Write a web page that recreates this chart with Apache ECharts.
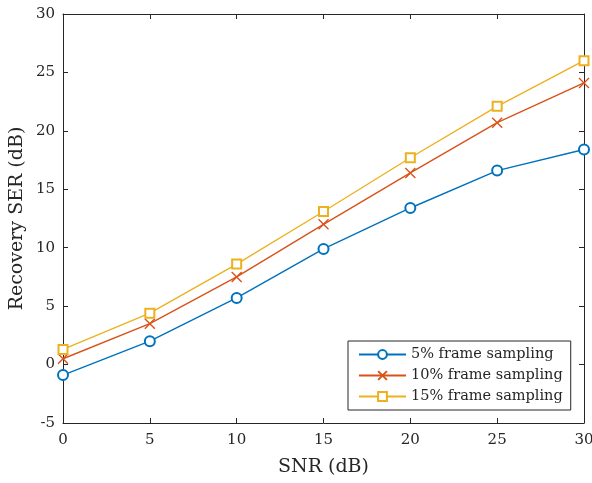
<!DOCTYPE html>
<html>
<head>
<meta charset="utf-8">
<script src="https://cdn.jsdelivr.net/npm/echarts@6/dist/echarts.min.js"></script>
<style>
  html, body { margin: 0; padding: 0; background: #fff; }
  #chart { width: 592px; height: 483px; }
</style>
</head>
<body>
<div id="chart"></div>
<script>
// 数据
var snr = [0, 5, 10, 15, 20, 25, 30];
var ser5 = [-0.9, 2.0, 5.7, 9.9, 13.4, 16.6, 18.4];
var ser10 = [0.5, 3.5, 7.5, 12.0, 16.4, 20.7, 24.1];
var ser15 = [1.3, 4.4, 8.6, 13.1, 17.7, 22.1, 26.0];
var seriesNames = ['5% frame sampling', '10% frame sampling', '15% frame sampling'];
var colors = ['#0072BD', '#D95319', '#EDB120'];

var font = '"DejaVu Serif", "Liberation Serif", serif';
var axisColor = '#262626';

function pairs(ys) {
    return snr.map(function (x, i) { return [x, ys[i]]; });
}

function axisBase(show) {
    return {
        type: 'value',
        axisLine: { show: true, onZero: false, lineStyle: { color: axisColor, width: 1 } },
        axisTick: { show: true, inside: true, length: 5, lineStyle: { color: axisColor } },
        splitLine: { show: false },
        axisLabel: { show: show, color: axisColor, fontFamily: font, fontSize: 15 }
    };
}

var xBottom = axisBase(true);
xBottom.min = 0; xBottom.max = 30; xBottom.interval = 5;
xBottom.position = 'bottom';
xBottom.name = 'SNR (dB)';
xBottom.nameLocation = 'middle';
xBottom.nameGap = 35;
xBottom.nameTextStyle = { color: axisColor, fontFamily: font, fontSize: 19 };
xBottom.axisLabel.margin = 10;

var xTop = axisBase(false);
xTop.min = 0; xTop.max = 30; xTop.interval = 5;
xTop.position = 'top';

var yLeft = axisBase(true);
yLeft.min = -5; yLeft.max = 30; yLeft.interval = 5;
yLeft.position = 'left';
yLeft.name = 'Recovery SER (dB)';
yLeft.nameLocation = 'middle';
yLeft.nameGap = 36;
yLeft.nameMoveOverlap = false;
yLeft.nameTextStyle = { color: axisColor, fontFamily: font, fontSize: 19 };
yLeft.axisLabel.margin = 8;

var yRight = axisBase(false);
yRight.min = -5; yRight.max = 30; yRight.interval = 5;
yRight.position = 'right';

var symbols = ['emptyCircle', 'path://M0,0L10,10M10,0L0,10', 'emptyRect'];
var sizes = [10, 10, 9];
var datas = [ser5, ser10, ser15];

var series = datas.map(function (d, i) {
    return {
        name: seriesNames[i],
        type: 'line',
        xAxisIndex: 0,
        yAxisIndex: 0,
        data: pairs(d),
        symbol: symbols[i],
        symbolSize: sizes[i],
        showAllSymbol: true,
        lineStyle: { color: colors[i], width: 1.4 },
        itemStyle: {
            color: i === 1 ? 'rgba(0,0,0,0)' : colors[i],
            borderColor: colors[i],
            borderWidth: 1.4
        },
        emphasis: { disabled: true },
        animation: false
    };
});

var option = {
    backgroundColor: '#fff',
    animation: false,
    grid: { left: 63, right: 8, top: 14, bottom: 60, containLabel: false, outerBoundsMode: 'none' },
    xAxis: [xBottom, xTop],
    yAxis: [yLeft, yRight],
    legend: {
        orient: 'vertical',
        left: 348,
        top: 341,
        padding: [6, 8, 6, 10],
        itemGap: 6,
        itemWidth: 47,
        itemHeight: 11,
        borderColor: axisColor,
        borderWidth: 1,
        borderRadius: 0,
        backgroundColor: '#fff',
        textStyle: { color: axisColor, fontFamily: font, fontSize: 14.5 },
        data: seriesNames
    },
    series: series
};

var myChart = echarts.init(document.getElementById('chart'));
myChart.setOption(option);
</script>
</body>
</html>
